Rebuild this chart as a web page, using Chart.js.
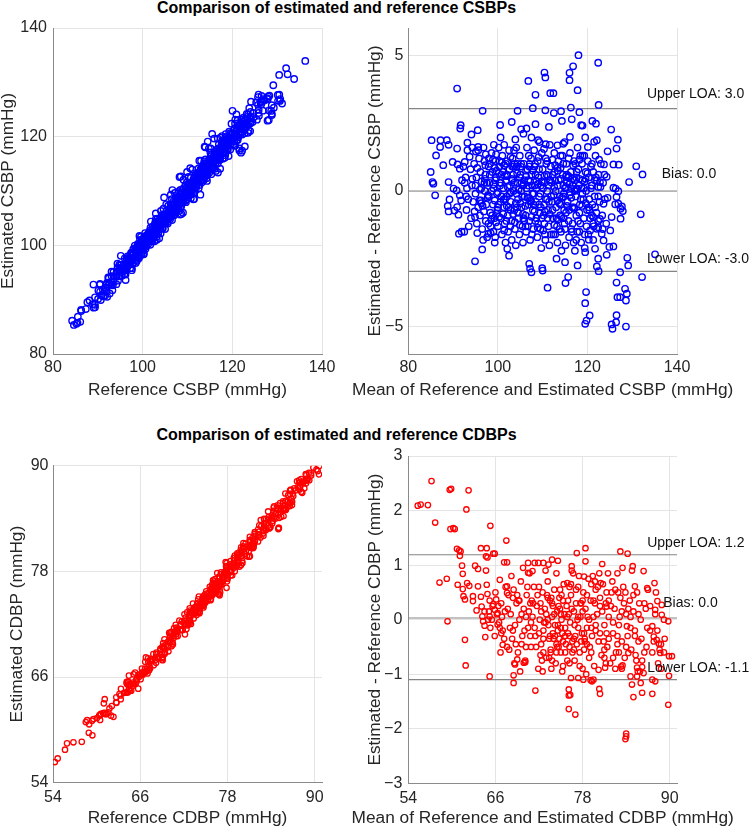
<!DOCTYPE html>
<html>
<head>
<meta charset="utf-8">
<script src="https://cdn.jsdelivr.net/npm/chart.js@4.4.1/dist/chart.umd.min.js"></script>
<style>
html,body{margin:0;padding:0;background:#fff;}
body{width:750px;height:830px;position:relative;overflow:hidden;font-family:"Liberation Sans",Arial,Helvetica,sans-serif;}
canvas{position:absolute;}
.ttl{position:absolute;left:0;width:673px;text-align:center;font-weight:bold;font-size:16px;line-height:18px;color:#000;white-space:nowrap;}
</style>
</head>
<body>
<div class="ttl" style="top:-1px">Comparison of estimated and reference CSBPs</div>
<div class="ttl" style="top:426px">Comparison of estimated and reference CDBPs</div>
<canvas id="c1" width="375" height="415" style="left:0;top:0;width:375px;height:415px"></canvas>
<canvas id="c2" width="410" height="415" style="left:340px;top:0;width:410px;height:415px"></canvas>
<canvas id="c3" width="375" height="410" style="left:0;top:420px;width:375px;height:410px"></canvas>
<canvas id="c4" width="410" height="410" style="left:340px;top:420px;width:410px;height:410px"></canvas>
<script>
// ---------------- DATA ----------------
// CSBP Bland-Altman: mean of reference & estimated, and estimated - reference (mmHg)
const meanCSBP = [
118.0,122.4,110.4,110.6,116.0,116.8,116.0,106.8,90.9,117.8,
108.4,111.7,112.4,122.5,116.3,107.8,96.6,104.4,110.6,112.5,
114.1,118.2,121.1,121.9,125.3,126.8,103.1,100.5,105.2,106.4,
111.4,108.4,114.3,116.5,118.6,118.9,91.7,91.6,95.5,94.1,
93.2,85.2,87.2,88.6,89.0,87.1,90.9,95.6,95.6,100.6,
105.7,107.5,109.0,110.7,113.3,114.6,116.1,119.5,121.5,122.1,
120.1,126.5,124.5,86.2,89.9,87.8,85.0,85.4,85.6,86.0,
89.0,90.1,90.8,91.5,89.2,89.0,88.8,90.9,91.2,90.3,
91.0,91.5,92.6,93.7,91.3,91.9,92.5,94.9,95.4,94.9,
96.5,97.9,99.4,99.7,102.1,102.5,107.0,107.2,107.5,109.9,
110.0,111.1,113.1,115.0,115.7,115.1,117.8,119.5,119.7,119.5,
120.5,119.8,119.5,122.1,122.5,122.4,125.4,126.4,125.6,126.5,
126.5,127.3,126.7,127.3,128.4,128.8,128.6,128.6,128.9,129.1,
132.2,135.1,131.9,130.9,132.3,129.3,126.9,126.3,125.8,127.0,
124.3,123.7,125.8,126.9,127.4,127.9,127.4,127.7,126.2,126.5,
124.5,122.4,122.8,122.1,123.6,125.1,125.8,124.9,123.6,124.3,
125.4,122.8,122.4,122.1,123.2,120.6,121.3,121.7,120.3,121.3,
92.3,92.8,93.1,93.4,93.0,92.6,93.9,94.2,94.5,94.0,
94.7,95.2,95.0,95.6,95.3,95.8,96.1,96.3,96.0,96.5,
96.8,97.0,97.2,97.1,97.4,97.3,97.6,97.9,98.1,98.0,
98.3,98.4,98.6,98.8,99.0,98.9,99.2,99.3,99.5,99.6,
99.8,99.9,100.0,100.2,100.3,100.4,
100.6,100.7,100.9,101.0,101.1,101.2,101.4,101.5,101.7,101.8,
101.9,102.0,102.2,102.3,102.5,102.6,102.7,102.9,103.0,103.1,
103.3,103.4,103.5,103.7,103.8,104.0,104.1,104.2,
104.4,104.5,104.6,104.8,104.9,105.0,105.2,105.3,105.5,105.6,
105.8,105.9,106.0,106.2,106.3,106.5,106.6,106.8,106.9,107.0,
107.2,107.4,107.5,107.7,107.8,107.9,
108.1,108.2,108.3,108.5,108.6,108.8,108.9,109.1,109.2,109.4,
109.5,109.7,109.8,110.0,110.1,110.3,110.4,110.6,110.7,110.9,
111.0,111.2,111.3,111.5,111.6,111.8,
112.0,112.1,112.3,112.4,112.6,112.7,112.9,113.0,113.2,113.3,
113.5,113.6,113.8,113.9,114.1,114.2,114.4,114.5,114.7,114.8,
115.0,115.1,115.3,115.4,115.6,115.8,
115.9,116.1,116.3,116.4,116.6,116.7,116.9,117.0,117.2,117.4,
117.5,117.7,117.8,118.0,118.1,118.3,118.4,118.6,118.8,118.9,
119.1,119.2,119.4,119.6,119.7,119.9,
120.1,120.3,120.4,120.6,120.8,121.0,121.1,121.3,121.6,121.8,
122.0,122.5,122.7,123.0,123.3,123.5,123.9,124.2,
97.5,98.2,98.7,99.4,100.1,100.8,101.6,102.1,102.8,103.6,
104.3,105.1,105.7,106.4,107.1,107.6,108.4,109.0,109.6,110.2,
110.8,111.4,112.2,112.8,113.4,114.0,114.6,115.2,115.7,116.5,
117.1,117.6,118.2,118.7,119.3,119.8,99.1,103.9,109.3,114.9,
94.3,94.8,95.4,95.9,96.4,96.9,97.3,97.7,98.2,98.5,
98.9,99.3,99.7,100.0,96.2,97.0,98.0,99.0,95.0,99.6,
100.3,100.5,100.9,101.3,101.6,101.9,102.2,102.4,102.8,103.1,
103.4,103.7,104.0,104.3,104.6,104.9,105.2,105.4,105.8,106.1,
100.4,101.2,102.0,102.9,103.6,104.5,105.3,105.9,101.4,103.2,
106.3,106.6,106.9,107.2,107.5,107.8,108.0,108.3,108.6,108.9,
109.2,109.5,109.8,110.1,110.4,110.7,111.0,111.3,111.6,111.9,
106.7,107.4,108.2,108.9,109.6,110.3,111.1,111.7,107.0,110.5,
112.2,112.5,112.8,113.1,113.4,113.7,114.0,114.3,114.6,114.9,
115.2,115.5,115.8,116.1,116.4,116.7,117.0,117.3,117.6,117.9,
112.6,113.3,114.2,115.0,115.9,116.8,117.5,113.8,116.0,117.2,
118.2,118.5,118.9,119.2,119.6,120.0,120.4,120.9,121.3,121.9,
122.4,122.9,123.4,118.4,119.4,120.2,121.0,121.7,122.6,123.8,
92.0,93.5,94.3,96.7,93.2,91.8,92.9,95.1,
96.0,96.6,97.2,97.8,98.4,99.0,99.6,100.2,100.8,101.4,
102.0,102.6,103.2,103.8,104.4,105.0,105.6,106.2,106.8,107.4,
108.0,108.6,109.2,109.8,110.4,111.0,111.6,112.2,112.8,113.4,
114.0,114.6,115.2,115.8,116.4,117.0,117.6,118.2,118.8,119.4,
96.3,97.1,97.9,98.6,99.3,100.0,100.7,101.4,102.1,102.8,
103.5,104.2,104.9,105.6,106.3,107.0,107.7,108.4,109.1,109.8,
110.5,111.2,111.9,112.6,113.3,114.0,114.7,115.4,116.1,116.8,
117.5,118.2,118.9,119.6,120.3,121.0,121.7,122.4,120.8,121.4
];
const diffCSBP = [
5.0,4.72,4.36,4.18,4.35,4.59,4.08,4.05,3.77,3.71,
3.54,3.6,3.6,3.17,3.07,3.05,2.95,2.95,2.97,2.87,
2.94,2.9,2.58,2.48,2.26,1.89,2.54,2.43,2.27,2.3,
2.36,2.46,2.58,2.64,2.42,2.41,2.42,2.3,2.24,2.08,
1.78,1.87,1.87,1.87,1.7,1.62,1.56,1.62,1.5,1.97,
2.11,1.97,1.87,1.72,1.68,1.74,1.99,1.97,1.81,1.87,
1.62,1.56,1.46,1.31,1.07,0.95,0.7,0.33,0.27,-0.16,
0.33,0.09,0.02,-0.16,-0.31,-0.75,-0.55,-0.59,-0.87,-0.72,
0.98,0.82,1.07,1.26,-1.57,-1.5,-1.5,-0.96,-1.55,-2.59,
-2.15,-1.57,-1.7,-0.84,-2.13,-2.38,-2.68,-2.86,-2.99,-2.84,
-2.93,-3.56,-2.49,-2.62,-3.17,-3.39,-2.74,-2.25,-3.72,-4.13,
-4.58,-4.77,-4.89,-2.78,-2.95,-2.49,-4.91,-4.83,-5.07,-4.57,
-3.37,-2.99,-3.91,-3.91,-3.6,-3.78,-4.03,-4.99,-2.46,-2.74,
-3.17,-2.33,-0.86,0.91,0.61,0.33,-0.01,0.09,0.12,0.97,
0.52,0.98,0.98,-0.47,-0.65,-0.74,-1.02,-0.57,-0.49,-0.22,
-0.25,0.15,0.33,0.39,-0.47,-1.45,-2.04,-2.06,-1.82,-2.35,
-0.96,-1.03,-1.33,-1.39,-1.57,-1.45,-1.8,-2.13,-1.79,-0.96,
0.9,0.5,0.1,-0.3,-0.7,0.3,0.8,0.2,-0.4,-1.0,
1.0,0.5,-0.1,-0.6,-1.2,1.2,0.7,0.1,-0.9,-1.4,
1.6,1.1,0.6,0.0,-0.5,-1.1,-1.7,0.9,0.3,-0.2,
-0.8,-1.3,1.4,0.7,0.1,-0.5,-1.0,-1.9,1.1,0.5,
-0.1,-0.7,-1.3,1.6,0.9,0.3,
-0.4,-1.0,-1.6,1.3,0.7,0.1,-0.6,-1.2,-1.9,1.0,
0.4,-0.2,-0.9,-1.5,1.5,0.8,0.2,-0.4,-1.1,-1.8,
1.2,0.6,0.0,-0.7,-1.4,-2.0,1.6,0.9,
0.3,-0.3,-1.0,-1.6,1.3,0.6,0.0,-0.6,-1.3,-1.9,
1.0,0.4,-0.2,-0.9,-1.5,1.6,0.8,0.2,-0.5,-1.1,
-1.8,1.2,0.6,-0.1,-0.7,-1.4,
1.5,0.9,0.2,-0.4,-1.0,-1.7,1.1,0.5,-0.2,-0.8,
-1.4,-2.1,1.4,0.8,0.1,-0.5,-1.2,-1.8,1.2,0.6,
0.0,-0.7,-1.3,-2.0,1.7,0.9,
0.3,-0.4,-1.0,-1.6,1.4,0.7,0.0,-0.6,-1.3,-1.9,
1.1,0.4,-0.2,-0.9,-1.5,-2.2,1.3,0.6,-0.1,-0.7,
-1.4,-2.0,1.0,0.3,-0.4,-1.1,
-1.7,1.4,0.7,0.1,-0.6,-1.2,-1.9,1.1,0.4,-0.2,
-0.9,-1.5,1.6,0.8,0.2,-0.5,-1.2,-1.9,1.0,0.4,
-0.3,-1.0,-1.6,0.7,0.0,-0.7,
1.1,0.5,-0.3,-1.0,0.9,0.2,-0.5,0.7,-0.2,1.3,
-0.8,0.6,-0.4,1.0,-0.9,0.3,-0.3,-1.2,
0.3,1.0,-0.9,0.4,-0.5,0.6,-0.3,1.1,-1.3,0.3,
-0.6,0.9,-1.0,0.1,1.0,-1.6,0.6,-1.2,0.2,-0.9,
1.0,-0.4,0.6,-1.6,0.2,-0.5,1.0,-0.8,0.5,-1.5,
0.0,0.7,-0.8,0.1,1.3,-1.3,1.7,1.9,1.8,1.8,
0.45,-0.75,0.85,-0.35,0.35,-0.75,1.35,-0.25,0.6,-1.05,
1.15,-0.35,0.75,-0.05,-0.35,0.3,1.2,-1.5,0.2,1.35,
-0.95,0.2,1.05,-0.3,0.55,-1.1,0.15,-0.6,1.25,0.45,
-0.85,1.0,-0.45,0.65,0.05,-1.25,1.0,-0.2,0.25,-0.55,
1.1,-0.85,0.6,-0.05,1.5,-0.8,0.3,-1.1,1.7,0.9,
0.55,-0.25,1.3,0.35,-0.95,0.75,-0.5,1.0,0.1,-1.35,
0.8,-0.1,0.35,-1.45,0.55,-0.3,1.1,0.2,-0.85,-0.2,
-1.3,-0.35,-0.75,0.25,-0.6,1.55,-1.0,0.4,0.9,-1.6,
1.15,-0.15,0.4,-1.0,0.75,-0.45,1.3,-0.25,0.2,-1.2,
0.55,-0.55,1.2,-0.05,-1.4,0.45,-0.6,1.0,0.05,-1.1,
-1.25,0.85,-0.95,0.1,-0.7,0.95,-1.8,-1.4,0.25,-2.2,
0.45,-0.3,1.3,0.1,-0.45,0.65,-0.7,0.2,-1.2,0.5,
-0.2,0.15,-1.4,1.3,-2.1,-1.6,1.0,-0.6,1.15,0.6,
0.4,-1.3,1.6,-1.8,1.5,-0.35,-0.2,1.45,
0.05,-0.55,0.95,-0.15,-1.55,0.25,-1.15,0.65,-0.2,0.95,
-0.55,-0.1,0.4,-1.15,1.0,-0.45,0.2,-1.3,0.4,-0.4,
-0.1,0.35,-0.5,-1.0,0.3,-0.3,0.4,-0.7,0.95,-1.05,
0.45,-0.2,0.15,0.55,-0.25,-0.65,0.1,1.15,-0.55,0.35,
-0.45,0.45,-1.2,0.0,0.85,-0.6,0.3,-1.45,0.55,-0.7,
0.9,-0.1,0.5,-0.85,0.75,-0.25,0.2,-1.1,1.25,0.35,
-0.75,0.55,-1.6,0.15,-0.35,0.85,-1.0,0.6,-0.15,0.2,
0.5,-1.5,-0.1,0.45,-0.6,-0.9,0.4,-1.1,0.1,-1.3
];

// CDBP Bland-Altman: mean of reference & estimated, and estimated - reference (mmHg)
const meanCDBP = [
55.3,55.7,56.7,57.2,57.7,58.3,59.3,59.4,59.7,59.9,
59.8,60.2,60.4,60.7,61.0,61.2,61.1,61.4,61.5,60.8,
61.5,61.6,61.8,62.0,62.3,62.1,62.4,61.8,61.9,62.9,
62.9,63.2,63.6,63.6,63.4,64.0,64.0,64.1,64.2,64.3,
64.5,64.6,64.8,64.7,64.9,64.7,64.8,64.9,65.3,65.2,
65.1,65.2,65.5,65.7,65.9,65.7,65.9,66.1,66.3,66.3,
66.6,66.6,67.2,67.6,67.5,67.0,67.6,67.6,68.5,68.5,
69.0,68.7,69.9,70.1,71.5,70.5,71.4,71.9,72.6,73.3,
70.5,71.1,73.8,74.6,75.9,76.5,77.2,78.4,78.4,78.2,
80.7,80.5,79.7,81.3,76.1,76.3,76.1,76.1,77.0,76.4,
77.4,78.1,79.3,79.1,79.5,80.2,80.3,80.4,81.1,83.2,
84.2,84.0,84.0,83.9,83.5,83.3,84.1,84.9,85.2,86.4,
86.9,87.9,88.0,88.3,88.9,88.9,89.2,89.8,90.3,89.9,
89.9,89.8,87.6,87.8,88.2,88.5,88.6,88.7,87.6,88.0,
86.2,86.4,86.2,87.6,85.0,86.0,85.5,85.6,84.8,84.6,
85.5,84.3,
64.5,65.0,65.3,65.6,65.9,66.2,66.5,66.8,67.0,67.3,
67.6,67.8,66.0,66.7,67.4,65.2,
68.1,68.3,68.5,68.7,68.9,69.1,69.3,69.5,69.7,69.9,
70.1,70.3,70.5,70.7,70.9,71.1,71.3,71.5,71.7,71.9,
68.6,69.8,70.2,71.0,
72.1,72.3,72.5,72.6,72.8,73.0,73.2,73.3,73.5,73.6,
73.8,74.0,74.1,74.3,74.5,74.6,74.8,75.0,75.1,75.3,
75.4,75.6,75.8,75.9,72.9,73.7,74.4,75.2,72.4,74.9,
73.9,74.7,
76.1,76.2,76.4,76.6,76.7,76.9,77.1,77.2,77.4,77.6,
77.7,77.9,78.1,78.2,78.4,78.6,78.8,78.9,79.1,79.3,
79.5,79.6,79.8,76.5,77.5,78.0,79.0,
80.0,80.2,80.4,80.6,80.8,81.0,81.2,81.4,81.6,81.8,
82.0,82.2,82.4,82.6,82.8,83.0,83.2,83.4,83.6,83.8,
84.0,81.5,82.5,83.5,
84.2,84.5,84.7,85.0,85.2,85.5,85.7,86.0,86.2,86.5,
86.8,87.0,87.3,87.6,88.0,88.4,88.8,89.2,84.8,85.9,
72.2,72.7,73.1,73.4,73.9,74.2,74.5,74.9,75.2,75.5,
75.7,76.0,76.3,76.8,77.0,77.3,77.8,78.3,78.7,79.2,
73.6,74.8,76.2,77.6,
66.4,66.9,67.2,67.7,68.0,68.4,68.8,69.2,69.6,70.0,
70.4,70.8,71.2,71.6,66.8,67.9,69.4,70.6,71.8,68.2,
72.0,72.3,72.6,72.9,73.2,73.5,73.8,74.1,74.4,74.7,
75.0,75.3,75.6,75.9,76.2,76.5,76.8,77.1,77.4,77.7,
72.5,73.4,74.2,75.1,76.0,76.9,77.8,73.0,74.6,76.4,
78.0,78.3,78.6,78.9,79.2,79.5,79.8,80.1,80.4,80.7,
81.0,81.3,81.6,81.9,82.2,82.5,82.8,83.1,83.4,83.7,
78.5,79.4,80.3,81.2,82.1,83.0,83.9,80.9,
84.3,84.6,85.0,85.3,85.7,86.1,86.5,86.9,87.3,87.8,
88.3,88.8,89.3,85.4,86.7,88.1,
68.4,69.0,69.6,70.2,70.8,71.4,72.0,72.6,73.2,73.8,
74.4,75.0,75.6,76.2,76.8,77.4,78.0,78.6,79.2,79.8,
80.4,81.0,81.6,82.2,82.8,83.4,84.0,84.6,85.2,85.8,
69.3,70.9,72.2,73.7,75.3,76.6,78.2,79.7,81.3,82.9
];
const diffCDBP = [
2.09,2.11,2.10,2.54,1.78,0.68,0.75,-0.03,2.38,2.40,
1.66,1.68,1.66,1.30,1.27,1.25,1.17,0.99,0.84,0.64,
0.56,0.43,0.37,2.02,2.37,0.67,0.62,-0.37,-0.84,0.43,
0.34,0.99,0.93,0.61,0.17,1.31,0.42,0.24,0.06,-0.03,
-0.11,-0.32,1.31,1.16,1.14,0.90,0.64,0.47,1.72,-1.04,
0.15,0.06,0.0,1.21,1.21,0.28,0.18,0.37,0.12,-0.09,
-0.15,0.73,1.05,1.05,1.45,-0.46,0.61,0.49,-1.02,-1.16,
-0.73,-0.82,-0.79,-0.78,-1.30,1.04,1.04,1.04,1.04,1.01,
0.86,0.89,1.10,1.08,0.67,0.98,1.22,1.31,1.07,0.79,
1.02,0.67,0.70,0.24,-1.28,-1.38,-1.39,-1.64,-1.74,-1.07,
-1.07,-1.10,-1.13,-1.11,-1.10,-0.92,-1.27,-1.36,-0.88,1.25,
1.21,-2.14,-2.09,-2.19,-0.84,-0.86,-0.12,0.98,0.61,0.89,
0.58,0.67,0.18,0.34,0.27,0.09,0.0,-0.03,-0.67,-0.67,
-1.03,-1.56,-0.12,-0.31,-0.37,-0.44,-0.55,-0.61,-1.10,-1.13,
-0.87,-0.98,-1.34,-1.36,-1.42,-1.16,-1.04,-0.95,-1.19,-1.04,
-0.88,-0.61,
0.15,0.0,-0.15,0.25,-0.3,0.1,-0.05,0.3,-0.2,0.15,
-0.5,0.45,0.5,-0.6,0.6,0.35,
0.1,-0.35,0.55,-0.1,0.3,-0.6,0.0,0.7,-0.3,0.2,
-0.75,0.45,-0.15,0.85,-0.5,0.05,0.6,-0.3,0.25,-0.9,
-0.8,0.95,-0.5,0.35,
0.0,-0.45,0.5,-0.2,0.2,-0.7,0.7,-0.1,0.35,-0.55,
0.05,-0.35,0.55,-0.8,0.15,-0.2,0.4,-0.6,0.0,-0.4,
0.65,-0.15,0.25,-0.75,0.9,-0.9,0.85,-0.95,-0.75,0.55,
-0.25,-0.5,
0.1,-0.3,0.45,-0.6,0.85,-0.1,0.3,-0.45,0.6,-0.85,
0.05,-0.25,0.5,-0.55,0.2,-0.15,0.75,-0.7,0.35,-0.3,
0.05,-0.85,0.55,0.9,0.8,-0.9,-0.5,
0.1,-0.4,0.4,-0.65,0.65,-0.1,0.3,-0.5,0.05,-0.8,
0.5,-0.25,0.2,-0.6,0.85,-0.1,0.4,-0.4,0.6,-0.7,
0.1,0.85,-0.9,0.95,
-0.3,0.35,-0.55,0.15,-0.2,0.5,-0.4,0.0,-0.75,0.3,
-0.5,0.55,-0.2,-0.6,0.1,-0.8,-0.45,-0.6,0.9,-0.95,
0.3,-0.05,0.45,-0.35,0.25,-0.1,-0.5,0.2,-0.25,0.1,
-0.45,0.35,-0.05,0.15,-0.3,0.0,0.3,-0.35,0.05,-0.15,
-0.6,-0.35,-0.8,-0.6,
0.25,0.05,-0.35,0.2,-0.15,0.4,-0.45,0.35,0.1,-0.2,
0.6,-0.3,0.3,-0.5,-0.25,-0.55,-0.95,0.15,0.45,0.8,
-0.25,0.15,-0.6,-0.05,0.4,-0.3,-0.75,0.1,-0.45,0.25,
-0.15,0.35,-0.6,0.05,-0.5,0.2,-0.35,0.55,-0.15,0.3,
-0.95,-0.7,-0.3,0.45,-0.25,-0.75,-0.4,0.1,-0.1,0.65,
0.15,-0.4,0.45,0.0,-0.6,0.35,-0.2,0.6,-0.25,0.15,
-0.55,0.5,-0.35,0.25,-0.7,0.55,-0.3,0.05,-0.9,0.3,
-1.0,0.8,0.85,-0.8,0.7,-0.6,0.5,-0.4,
0.2,-0.15,0.45,-0.65,0.1,-0.35,-0.6,-0.15,0.25,-0.4,
-0.2,-0.9,-0.35,-0.75,0.2,0.5,
-0.2,0.45,-0.45,0.05,0.3,-0.15,0.6,-0.35,0.0,0.3,
-0.6,0.1,-0.3,0.6,-0.55,0.05,0.35,-0.45,0.65,-0.1,
0.25,-0.7,0.35,-0.05,-0.45,0.15,-0.5,0.05,-0.3,0.3,
0.35,-0.05,-0.65,0.4,-0.85,-0.4,-0.25,0.3,-0.25,0.5
];

// Bias and limits of agreement (line values) and their labels
const limitsCSBP = [3.03, 0.0, -2.96];
const limitLabelsCSBP = ['Upper LOA: 3.0', 'Bias: 0.0', 'Lower LOA: -3.0'];
const limitsCDBP = [1.19, 0.03, -1.10];
const limitLabelsCDBP = ['Upper LOA: 1.2', 'Bias: 0.0', 'Lower LOA: -1.1'];

// Tick values
const ticksCSBP = [80, 100, 120, 140];
const ticksDiffCSBP = [-5, 0, 5];
const ticksCDBP = [54, 66, 78, 90];
const ticksDiffCDBP = [-3, -2, -1, 0, 1, 2, 3];

// ---------------- BUILD ----------------
// reference = mean - diff/2, estimated = mean + diff/2 (same measurements as the Bland-Altman plots)
const scatterCSBP = meanCSBP.map((m, i) => ({x: m - diffCSBP[i] / 2, y: m + diffCSBP[i] / 2}));
const baCSBP = meanCSBP.map((m, i) => ({x: m, y: diffCSBP[i]}));
const scatterCDBP = meanCDBP.map((m, i) => ({x: m - diffCDBP[i] / 2, y: m + diffCDBP[i] / 2}));
const baCDBP = meanCDBP.map((m, i) => ({x: m, y: diffCDBP[i]}));

const FONT = '"Liberation Sans", Arial, Helvetica, sans-serif';
const TEXT = '#262626';
const TITLE_SIZE = 17.3;

function axis(o) {
  return {
    type: 'linear', min: o.min, max: o.max,
    afterBuildTicks: s => { s.ticks = o.ticks.map(v => ({value: v})); },
    afterFit: s => { if (o.isX) s.height = o.size; else s.width = o.size; },
    grid: {display: true, color: '#e4e4e4', lineWidth: 1, drawTicks: false},
    border: {display: true, color: '#8a8a8a', width: 1},
    ticks: {
      color: TEXT, font: {family: FONT, size: 16}, padding: o.tickPad,
      maxRotation: 0, autoSkip: false,
      callback: v => String(v).replace('-', '\u2212')
    },
    title: {
      display: !o.freeTitle, text: o.title, color: TEXT,
      font: {family: FONT, size: TITLE_SIZE, lineHeight: 1},
      padding: o.isX ? {top: 0, bottom: o.titlePad || 0} : {top: o.titlePad, bottom: 0}
    }
  };
}

const limitPlugin = {
  id: 'limits',
  beforeDatasetsDraw(chart, args, opts) {
    if (!opts.values) return;
    const {ctx, chartArea: {left, right}, scales: {y}} = chart;
    ctx.save();
    ctx.strokeStyle = '#858585';
    ctx.lineWidth = 1.2;
    opts.values.forEach(v => {
      const py = y.getPixelForValue(v);
      ctx.beginPath(); ctx.moveTo(left, py); ctx.lineTo(right, py); ctx.stroke();
    });
    ctx.restore();
  },
  afterDatasetsDraw(chart, args, opts) {
    if (!opts.labels) return;
    const {ctx, scales: {x, y}} = chart;
    ctx.save();
    ctx.font = '14px ' + FONT;
    ctx.fillStyle = '#111';
    ctx.textAlign = 'left';
    ctx.textBaseline = 'middle';
    opts.labels.forEach((t, i) => {
      ctx.fillText(t, x.getPixelForValue(opts.labelX[i]), y.getPixelForValue(opts.labelY[i]));
    });
    ctx.restore();
  },
  afterDraw(chart, args, opts) {
    if (!opts.xTitle) return;
    // x-axis title wider than the axis: drawn without Chart.js' max-width squeeze
    const {ctx, chartArea: {left, right}} = chart;
    ctx.save();
    ctx.font = TITLE_SIZE + 'px ' + FONT;
    ctx.fillStyle = TEXT;
    ctx.textAlign = 'center';
    ctx.textBaseline = 'middle';
    ctx.fillText(opts.xTitle, (left + right) / 2, chart.height - opts.xTitleOffset);
    ctx.restore();
  }
};

function makeChart(id, o) {
  return new Chart(document.getElementById(id), {
    type: 'scatter',
    data: {datasets: [{
      data: o.data, showLine: false, pointStyle: 'circle',
      pointRadius: o.r, pointHoverRadius: o.r, pointBorderWidth: o.bw,
      pointBorderColor: o.color, pointBackgroundColor: 'rgba(0,0,0,0)'
    }]},
    options: {
      responsive: false, animation: false, devicePixelRatio: 1, events: [],
      layout: {padding: o.padding},
      plugins: {
        legend: {display: false}, tooltip: {enabled: false},
        limits: o.limits || {}
      },
      scales: {x: axis(o.x), y: axis(o.y)}
    },
    plugins: [limitPlugin]
  });
}

makeChart('c1', {
  data: scatterCSBP, color: '#0000ff', r: 3.2, bw: 1.4,
  padding: {left: 0, top: 28, right: 53, bottom: 0},
  x: {isX: true, min: 80, max: 140, ticks: ticksCSBP, size: 61, tickPad: 4.4, title: 'Reference CSBP (mmHg)', titlePad: 16.35},
  y: {isX: false, min: 80, max: 140, ticks: ticksCSBP, size: 53, tickPad: 6, title: 'Estimated CSBP (mmHg)', titlePad: 0}
});

makeChart('c2', {
  data: baCSBP, color: '#0000ff', r: 3.2, bw: 1.4,
  padding: {left: 15, top: 28, right: 73, bottom: 0},
  x: {isX: true, min: 80, max: 140, ticks: ticksCSBP, size: 61, tickPad: 4.4, title: 'Mean of Reference and Estimated CSBP (mmHg)', freeTitle: true},
  y: {isX: false, min: -6, max: 6, ticks: ticksDiffCSBP, size: 53.3, tickPad: 5, title: 'Estimated - Reference CSBP (mmHg)', titlePad: 11.35},
  limits: {values: limitsCSBP, labels: limitLabelsCSBP, labelX: [133.3, 136.6, 133.3], labelY: [3.56, 0.62, -2.52],
           xTitle: 'Mean of Reference and Estimated CSBP (mmHg)', xTitleOffset: 25}
});

makeChart('c3', {
  data: scatterCDBP, color: '#ff0000', r: 2.7, bw: 1.3,
  padding: {left: 0, top: 45.7, right: 53, bottom: 0},
  x: {isX: true, min: 54, max: 91, ticks: ticksCDBP, size: 47.3, tickPad: 5.7, title: 'Reference CDBP (mmHg)', titlePad: 3.35},
  y: {isX: false, min: 54, max: 90, ticks: ticksCDBP, size: 53, tickPad: 4.5, title: 'Estimated CDBP (mmHg)', titlePad: 8.85}
});

makeChart('c4', {
  data: baCDBP, color: '#ff0000', r: 2.7, bw: 1.3,
  padding: {left: 15, top: 36, right: 73, bottom: 0},
  x: {isX: true, min: 54, max: 91, ticks: ticksCDBP, size: 46.7, tickPad: 5.7, title: 'Mean of Reference and Estimated CDBP (mmHg)', freeTitle: true},
  y: {isX: false, min: -3, max: 3, ticks: ticksDiffCDBP, size: 53.3, tickPad: 6, title: 'Estimated - Reference CDBP (mmHg)', titlePad: 11.35},
  limits: {values: limitsCDBP, labels: limitLabelsCDBP, labelX: [86.9, 89.1, 86.9], labelY: [1.41, 0.31, -0.88],
           xTitle: 'Mean of Reference and Estimated CDBP (mmHg)', xTitleOffset: 12}
});
</script>
</body>
</html>
